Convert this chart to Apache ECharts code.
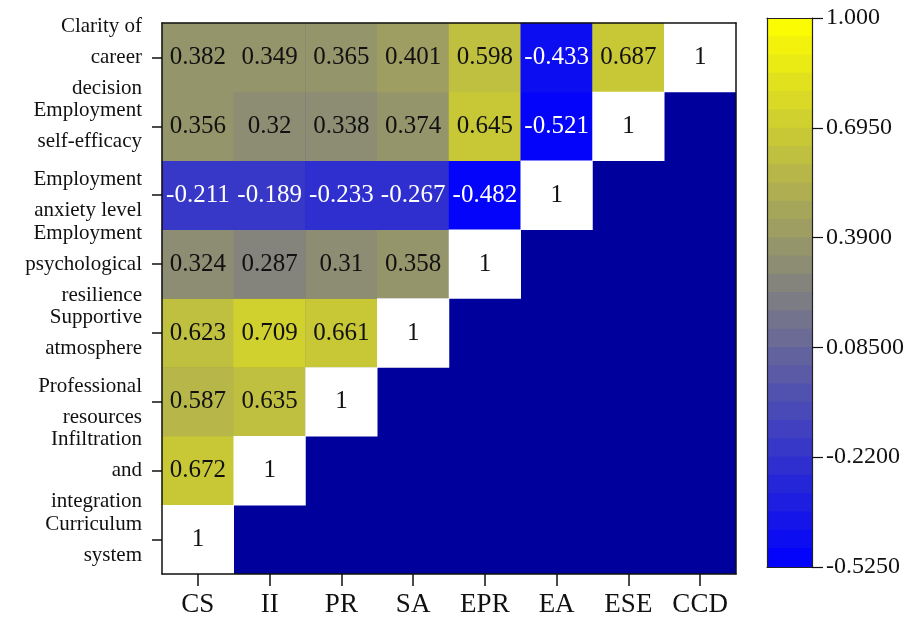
<!DOCTYPE html>
<html>
<head>
<meta charset="utf-8">
<script src="https://cdn.jsdelivr.net/npm/echarts@6/dist/echarts.min.js"></script>
<style>
  html, body { margin: 0; padding: 0; background: #ffffff; }
  #chart { width: 909px; height: 621px; }
</style>
</head>
<body>
<div id="chart"></div>
<script>
// Variable abbreviations along the bottom, full names up the side (bottom to top)
const xLabels = ['CS', 'II', 'PR', 'SA', 'EPR', 'EA', 'ESE', 'CCD'];
const yLabels = [
  'Curriculum\nsystem',
  'Infiltration\nand\nintegration',
  'Professional\nresources',
  'Supportive\natmosphere',
  'Employment\npsychological\nresilience',
  'Employment\nanxiety level',
  'Employment\nself-efficacy',
  'Clarity of\ncareer\ndecision'
];

// Correlation of each row variable with CS, II, PR, ... (columns left of the diagonal)
const rowCS  = [];
const rowII  = [0.672];
const rowPR  = [0.587, 0.635];
const rowSA  = [0.623, 0.709, 0.661];
const rowEPR = [0.324, 0.287, 0.31, 0.358];
const rowEA  = [-0.211, -0.189, -0.233, -0.267, -0.482];
const rowESE = [0.356, 0.32, 0.338, 0.374, 0.645, -0.521];
const rowCCD = [0.382, 0.349, 0.365, 0.401, 0.598, -0.433, 0.687];
const rows = [rowCS, rowII, rowPR, rowSA, rowEPR, rowEA, rowESE, rowCCD];

// Colour scale range and its tick labels
const scaleMin = -0.525;
const scaleMax = 1;
const scaleStep = 0.305;
const colorbarTicks = ['-0.5250', '-0.2200', '0.08500', '0.3900', '0.6950', '1.000'];
const bandCount = 30;

// Stepped blue -> grey -> yellow palette
function bandColor(j) {
  const t = (j + 0.5) / bandCount;
  let a, b, s;
  if (t < 0.5) { a = [0, 0, 255]; b = [128, 128, 128]; s = t / 0.5; }
  else { a = [128, 128, 128]; b = [255, 255, 0]; s = (t - 0.5) / 0.5; }
  const c = a.map((v, k) => Math.round(v + (b[k] - v) * s));
  return 'rgb(' + c.join(',') + ')';
}
const bandWidth = (scaleMax - scaleMin) / bandCount;
const pieces = [];
for (let j = 0; j < bandCount; j++) {
  const p = { gte: scaleMin + j * bandWidth, color: bandColor(j) };
  if (j < bandCount - 1) p.lt = scaleMin + (j + 1) * bandWidth; else p.lte = scaleMax;
  pieces.push(p);
}

const serif = 'Liberation Serif';
const ink = '#111111';

// colour bar geometry: bands overlap slightly so no seams show between them
const barLeft = 767, barTop = 18, barWidth = 45, barHeight = 549;
const bandOverlap = 0.8;
const bandHeight = (barHeight + (bandCount - 1) * bandOverlap) / bandCount;

const cellData = [];
const diagData = [];
rows.forEach((vals, r) => {
  vals.forEach((v, c) => {
    cellData.push({
      value: [c, r, v],
      label: { color: v < 0 ? '#ffffff' : ink }
    });
  });
  diagData.push([r, r, 1]);
});

const frame = { show: true, lineStyle: { color: ink, width: 1.5 } };
const frameThin = { show: true, onZero: false, lineStyle: { color: '#222222', width: 1.2 } };

const chart = echarts.init(document.getElementById('chart'), null, { renderer: 'canvas' });
chart.setOption({
  animation: false,
  backgroundColor: '#ffffff',
  textStyle: { fontFamily: serif },
  grid: [
    { left: 162, top: 23, right: 173, bottom: 47, show: true, backgroundColor: '#00009c', borderWidth: 0 },
    { left: barLeft, top: barTop, width: barWidth, height: barHeight, show: false }
  ],
  visualMap: {
    type: 'piecewise',
    seriesIndex: 0,
    pieces: pieces,
    orient: 'vertical',
    left: barLeft,
    top: barTop,
    itemWidth: barWidth,
    itemHeight: bandHeight,
    itemGap: -bandOverlap,
    itemSymbol: 'rect',
    showLabel: false,
    padding: 0,
    borderWidth: 0,
    selectedMode: false,
    hoverLink: false
  },
  xAxis: [
    {
      type: 'category', gridIndex: 0, data: xLabels, position: 'bottom', z: 10,
      axisLine: frame,
      axisTick: { show: true, alignWithLabel: true, length: 12, lineStyle: { color: ink, width: 1.5 } },
      axisLabel: { interval: 0, fontFamily: serif, fontSize: 27, color: ink, margin: 17 },
      splitLine: { show: false }
    },
    {
      type: 'category', gridIndex: 0, data: xLabels, position: 'top', z: 10,
      axisLine: frame,
      axisTick: { show: false }, axisLabel: { show: false }, splitLine: { show: false }
    },
    {
      type: 'value', gridIndex: 1, position: 'bottom', z: 10, min: 0, max: 1,
      axisLine: frameThin, axisTick: { show: false }, axisLabel: { show: false }, splitLine: { show: false }
    },
    {
      type: 'value', gridIndex: 1, position: 'top', z: 10, min: 0, max: 1,
      axisLine: frameThin, axisTick: { show: false }, axisLabel: { show: false }, splitLine: { show: false }
    }
  ],
  yAxis: [
    {
      type: 'category', gridIndex: 0, data: yLabels, position: 'left', z: 10,
      axisLine: frame,
      axisTick: { show: true, alignWithLabel: true, length: 10, lineStyle: { color: ink, width: 1.5 } },
      axisLabel: { interval: 0, fontFamily: serif, fontSize: 21, lineHeight: 31, color: ink, margin: 20, align: 'right' },
      splitLine: { show: false }
    },
    {
      type: 'category', gridIndex: 0, data: yLabels, position: 'right', z: 10,
      axisLine: frame,
      axisTick: { show: false }, axisLabel: { show: false }, splitLine: { show: false }
    },
    {
      type: 'value', gridIndex: 1, position: 'right', z: 10,
      min: scaleMin, max: scaleMax, interval: scaleStep,
      axisLine: frameThin,
      axisTick: { show: true, length: 11, lineStyle: { color: ink, width: 1.2 } },
      axisLabel: {
        fontFamily: serif, fontSize: 24, color: ink, margin: 14,
        formatter: (v, i) => colorbarTicks[i]
      },
      splitLine: { show: false }
    },
    {
      type: 'value', gridIndex: 1, position: 'left', z: 10,
      min: scaleMin, max: scaleMax,
      axisLine: frameThin, axisTick: { show: false }, axisLabel: { show: false }, splitLine: { show: false }
    }
  ],
  series: [
    {
      name: 'correlation',
      type: 'heatmap',
      xAxisIndex: 0, yAxisIndex: 0,
      data: cellData,
      label: { show: true, fontFamily: serif, fontSize: 25, formatter: p => String(p.value[2]) },
      emphasis: { disabled: true }
    },
    {
      name: 'diagonal',
      type: 'heatmap',
      xAxisIndex: 0, yAxisIndex: 0,
      data: diagData,
      itemStyle: { color: '#ffffff' },
      label: { show: true, fontFamily: serif, fontSize: 25, color: ink, formatter: p => String(p.value[2]) },
      emphasis: { disabled: true }
    }
  ]
});
</script>
</body>
</html>
